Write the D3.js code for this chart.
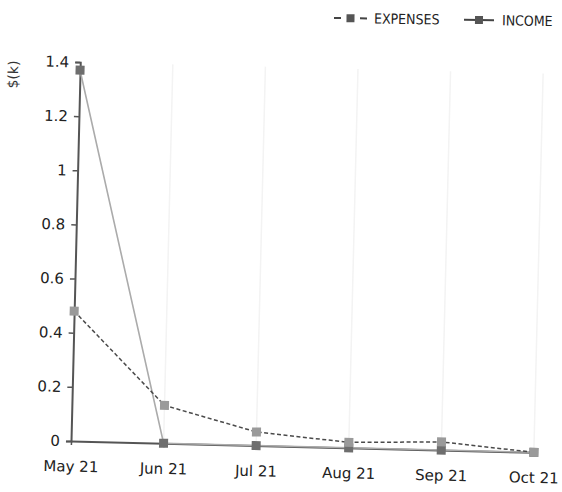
<!DOCTYPE html>
<html>
<head>
<meta charset="utf-8">
<script src="https://cdn.jsdelivr.net/npm/d3@7"></script>
<style>
  html, body { margin: 0; padding: 0; background: #fff; }
  svg { display: block; }
  .tick text { font-family: "DejaVu Sans", Verdana, sans-serif; font-size: 15px; fill: #222; }
</style>
</head>
<body>
<svg id="chart" width="562" height="492"></svg>
<script>
// Monthly totals in thousands of dollars
const months = ["May 21", "Jun 21", "Jul 21", "Aug 21", "Sep 21", "Oct 21"];
const expenses = [0.48, 0.14, 0.05, 0.02, 0.03, 0];
const income = [1.37, 0, 0, 0, 0, 0];
const yTicks = [0, 0.2, 0.4, 0.6, 0.8, 1, 1.2, 1.4];
const legendItems = ["EXPENSES", "INCOME"];

const svg = d3.select("#chart");
const W = 463, H = 379;            // plot area size
const originX = 71, originY = 441; // bottom-left corner of the axes
const tilt = 1.4;                  // the printed page sits slightly askew

const x = d3.scalePoint().domain(months).range([0, W]);
const y = d3.scaleLinear().domain([0, 1.4]).range([0, -H]);

const g = svg.append("g")
  .attr("transform", `translate(${originX},${originY}) rotate(${tilt})`);

// faint vertical gridlines
g.append("g").selectAll("line").data(months.slice(1)).join("line")
  .attr("x1", d => x(d)).attr("x2", d => x(d))
  .attr("y1", 0).attr("y2", -H)
  .attr("stroke", "#f3f3f3").attr("stroke-width", 1.5);

// y axis
const yAxis = g.append("g")
  .call(d3.axisLeft(y).tickValues(yTicks).tickFormat(d3.format("~g")).tickSize(5).tickPadding(6));
yAxis.select(".domain").attr("stroke", "#555").attr("stroke-width", 2);
yAxis.selectAll(".tick line").attr("stroke", "#555").attr("stroke-width", 1.5);

// x axis
const xAxis = g.append("g")
  .call(d3.axisBottom(x).tickSize(4).tickPadding(16).tickSizeOuter(0));
xAxis.select(".domain").attr("stroke", "#555").attr("stroke-width", 2);
xAxis.selectAll(".tick line").attr("stroke", "#555").attr("stroke-width", 1.5);

// y axis title
g.append("text")
  .attr("transform", `translate(${-62},${-H + 14}) rotate(-90)`)
  .attr("text-anchor", "middle")
  .attr("font-family", "DejaVu Sans, sans-serif")
  .attr("font-size", 14).attr("fill", "#333")
  .text("$(k)");

const line = d3.line().x((d, i) => x(months[i])).y(d => y(d));

// income: solid light line, darker markers
g.append("path").datum(income)
  .attr("d", line).attr("fill", "none")
  .attr("stroke", "#ababab").attr("stroke-width", 1.6);

// expenses: dashed dark line, lighter markers
g.append("path").datum(expenses)
  .attr("d", line).attr("fill", "none")
  .attr("stroke", "#4a4a4a").attr("stroke-width", 1.5)
  .attr("stroke-dasharray", "4,2.5");

const ms = 9;
g.append("g").selectAll("rect").data(income).join("rect")
  .attr("x", (d, i) => x(months[i]) - ms / 2)
  .attr("y", d => y(d) - ms / 2)
  .attr("width", ms).attr("height", ms)
  .attr("fill", "#6e6e6e");

g.append("g").selectAll("rect").data(expenses).join("rect")
  .attr("x", (d, i) => x(months[i]) - ms / 2)
  .attr("y", d => y(d) - ms / 2)
  .attr("width", ms).attr("height", ms)
  .attr("fill", "#9a9a9a");

// legend
const legend = svg.append("g").attr("transform", "translate(334,18) rotate(0.8)");
const legendX = [0, 130];
legendItems.forEach((name, i) => {
  const lg = legend.append("g").attr("transform", `translate(${legendX[i]},0)`);
  if (i === 0) {
    [[0, 7], [26, 33]].forEach(([a, b]) => lg.append("line")
      .attr("x1", a).attr("x2", b).attr("y1", 0).attr("y2", 0)
      .attr("stroke", "#444").attr("stroke-width", 2));
  } else {
    lg.append("line").attr("x1", 0).attr("x2", 30).attr("y1", 0).attr("y2", 0)
      .attr("stroke", "#444").attr("stroke-width", 2);
  }
  lg.append("rect").attr("x", (i === 0 ? 16.5 : 15) - 4).attr("y", -4)
    .attr("width", 8).attr("height", 8)
    .attr("fill", "#555");
  lg.append("text")
    .attr("x", i === 0 ? 40 : 38).attr("y", 5)
    .attr("font-family", "DejaVu Sans Condensed, DejaVu Sans, sans-serif")
    .attr("font-size", 14).attr("fill", "#222")
    .text(name);
});
</script>
</body>
</html>
